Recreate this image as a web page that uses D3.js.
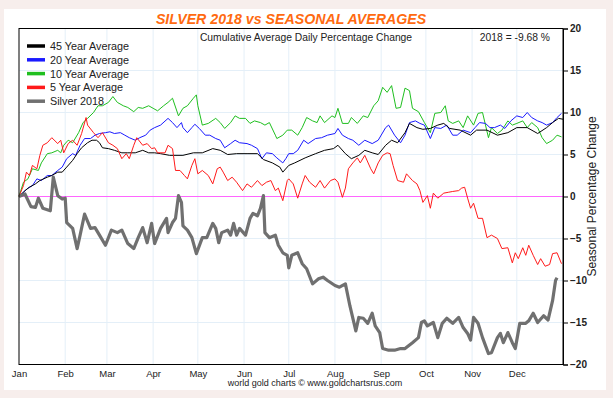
<!DOCTYPE html>
<html>
<head>
<meta charset="utf-8">
<script src="https://cdn.jsdelivr.net/npm/d3@7"></script>
<style>
  html, body { margin: 0; padding: 0; background: #f7eeec; }
  svg { display: block; font-family: "Liberation Sans", Arial, sans-serif; }
</style>
</head>
<body>
<div id="container"></div>
<script>
/* CONSTANTS AND GLOBALS */
const width = 613,
  height = 398,
  margin = { top: 28.5, bottom: 33.5, left: 19, right: 50 };

/* DATA */
// month labels sit on the first day of each month (day of year)
const months = ["Jan", "Feb", "Mar", "Apr", "May", "Jun", "Jul", "Aug", "Sep", "Oct", "Nov", "Dec"];
const monthStarts = [0, 31, 59, 90, 120, 151, 181, 212, 243, 273, 304, 334];
const yTicks = [-20, -15, -10, -5, 0, 5, 10, 15, 20];

const seriesNames = ["45 Year Average", "20 Year Average", "10 Year Average", "5 Year Average", "Silver 2018"];
const seriesColors = ["#000000", "#1a1aff", "#1fbf1f", "#ff1a1a", "#707070"];

// [day of year, cumulative % change]
const avg45 = [[0,0],[4,0.7],[7,1.1],[11,1.5],[14,1.9],[19,2.3],[22,2.5],[26,2.9],[29,2.9],[32,3.5],[36,4.3],[39,5.1],
  [42,5.8],[46,6.4],[49,6.7],[52,6.7],[54,6.4],[56,5.8],[60,5.7],[64,5.5],[69,5.2],[73,5.2],[78,5.2],[83,5.5],[87,5.2],
  [91,5.2],[95,5.1],[101,4.9],[110,4.9],[117,5.2],[123,5.2],[130,5.7],[135,5.5],[140,5.0],[146,5.1],[153,5.1],[160,5.1],
  [164,4.4],[170,4.0],[175,3.5],[177,2.9],[181,3.7],[185,4.0],[192,4.6],[199,5.1],[205,5.5],[211,5.7],[214,6.1],[219,5.1],
  [223,4.5],[228,4.9],[232,5.5],[237,5.2],[241,5.0],[246,6.1],[250,6.7],[254,6.4],[259,7.6],[262,8.7],[267,8.2],[271,8.0],
  [276,8.1],[281,8.5],[285,8.7],[289,8.1],[296,7.9],[303,7.3],[307,7.9],[314,7.9],[321,7.3],[328,7.6],[334,8.2],[341,8.2],
  [348,7.5],[354,8.2],[358,8.8],[362,9.3],[365,9.2]];

const avg20 = [[0,0],[3,0.5],[6,1.0],[9,1.3],[12,2.1],[15,1.9],[19,2.5],[22,2.5],[26,3.1],[29,3.5],[32,4.5],[36,5.1],
  [38,4.9],[41,6.1],[44,6.9],[48,6.9],[51,7.3],[54,7.5],[58,7.6],[61,7.7],[64,7.5],[68,7.6],[71,7.3],[74,7.0],[78,6.7],
  [81,7.0],[85,7.3],[88,7.9],[91,8.2],[95,8.5],[100,9.3],[103,8.8],[106,8.2],[109,8.8],[110,8.2],[113,7.6],[116,8.2],
  [118,8.6],[121,8.1],[125,7.3],[128,7.3],[132,6.9],[135,6.7],[138,5.8],[142,6.3],[145,6.7],[148,6.4],[153,6.3],[156,6.1],
  [160,5.7],[163,4.5],[166,5.2],[170,5.1],[173,4.6],[177,4.0],[179,4.5],[181,5.1],[184,5.1],[187,5.5],[191,6.7],[194,6.3],
  [199,6.9],[203,7.0],[207,7.3],[212,7.5],[214,8.1],[217,7.3],[221,6.9],[224,6.7],[228,6.1],[232,6.7],[237,6.3],[241,6.7],
  [246,8.2],[248,8.5],[252,7.3],[256,6.4],[259,7.3],[262,8.8],[266,9.0],[269,8.7],[272,8.5],[276,6.9],[279,8.2],[283,8.1],
  [287,8.5],[291,7.3],[294,7.3],[298,7.9],[303,7.6],[306,8.2],[309,8.8],[313,8.7],[316,8.2],[319,8.2],[323,8.5],[326,8.1],
  [330,9.0],[334,9.6],[338,9.4],[341,10.0],[344,9.4],[348,9.0],[351,8.8],[354,8.5],[358,8.8],[361,9.4],[364,9.9]];

const avg10 = [[0,0],[3,1.7],[6,2.1],[9,3.3],[13,3.1],[15,4.0],[19,5.1],[22,5.2],[26,5.5],[28,5.2],[30,6.1],[33,6.7],
  [36,6.4],[40,7.6],[43,8.8],[46,9.3],[50,10.0],[53,10.8],[56,10.8],[60,11.2],[63,11.9],[66,11.2],[70,10.8],[73,10.6],
  [77,10.1],[80,10.6],[83,10.5],[87,10.8],[90,10.5],[93,10.2],[97,10.8],[100,11.2],[103,11.7],[107,9.6],[110,10.5],
  [113,10.8],[117,11.7],[119,12.1],[120,10.8],[123,8.5],[127,8.7],[132,9.3],[135,8.8],[138,8.1],[142,8.8],[145,9.6],
  [148,9.3],[152,9.3],[155,8.7],[158,9.0],[162,8.8],[165,8.5],[168,8.8],[172,7.3],[173,6.9],[177,7.3],[180,7.9],[183,7.9],
  [187,7.3],[190,8.2],[193,9.4],[197,9.0],[200,8.8],[202,9.6],[205,8.8],[210,9.6],[212,9.4],[214,10.5],[217,8.7],[221,8.7],
  [223,9.4],[227,8.7],[231,9.6],[234,9.4],[238,10.8],[241,11.4],[244,13.0],[247,12.4],[250,13.2],[253,10.5],[256,10.6],
  [259,12.9],[262,12.6],[264,10.5],[268,10.1],[272,8.8],[276,7.6],[279,9.9],[283,10.0],[286,10.8],[288,9.0],[291,8.7],
  [295,9.0],[298,8.2],[301,9.6],[305,8.5],[308,9.9],[311,10.0],[315,7.0],[317,8.2],[321,7.5],[324,7.9],[328,9.0],[331,8.5],
  [334,8.7],[338,9.0],[341,8.2],[344,8.8],[348,8.2],[351,7.0],[354,6.3],[358,6.7],[361,7.3],[364,7.1]];

const avg5 = [[0,0],[3,1.3],[5,2.9],[7,2.5],[9,3.7],[12,3.3],[14,4.9],[16,6.1],[19,6.4],[22,7.0],[26,6.3],[28,6.7],
  [30,5.2],[33,6.3],[36,6.7],[39,6.1],[42,7.5],[45,9.4],[46,8.5],[50,7.6],[53,7.0],[56,7.6],[60,6.4],[63,6.1],[66,5.7],
  [69,4.5],[72,5.1],[74,4.5],[77,6.1],[79,7.0],[83,6.1],[86,6.3],[89,5.7],[91,5.8],[93,5.2],[98,5.2],[100,6.1],[103,5.7],
  [105,3.1],[108,3.1],[111,2.5],[113,2.1],[116,3.7],[118,4.5],[120,2.7],[123,3.1],[127,2.5],[130,1.5],[133,3.3],[135,3.5],
  [137,2.9],[140,1.9],[143,2.3],[146,1.7],[150,0.7],[153,1.5],[156,1.1],[160,1.9],[163,1.3],[166,1.7],[169,1.9],[172,0.7],
  [174,1.0],[177,-0.5],[180,1.9],[181,2.1],[184,1.5],[187,-0.2],[190,1.5],[192,2.5],[195,1.7],[199,1.1],[202,1.9],[205,1.0],
  [209,1.9],[212,2.1],[214,1.7],[217,-0.1],[219,1.0],[221,3.3],[224,4.0],[227,4.6],[229,4.0],[232,4.9],[236,3.3],[238,2.7],
  [241,4.0],[244,4.9],[247,5.2],[249,5.1],[251,3.7],[254,1.9],[258,1.7],[260,2.7],[264,1.9],[267,1.5],[269,0.7],[271,-0.7],
  [274,0.1],[276,-1.4],[278,0.4],[281,-0.2],[285,0.4],[288,0.5],[291,0.6],[295,0.7],[297,1.0],[299,1.1],[301,-0.2],
  [303,-1.4],[305,-0.8],[308,-2.6],[311,-2.6],[314,-4.9],[317,-4.6],[321,-5.0],[324,-6.2],[328,-6.1],[331,-7.9],[333,-6.7],
  [335,-7.4],[338,-6.1],[340,-7.0],[342,-5.8],[345,-7.0],[348,-8.1],[350,-7.4],[353,-8.3],[356,-8.1],[358,-6.8],
  [361,-6.7],[364,-8.0]];

const silver2018 = [[0,0],[4,0.3],[8,-1.2],[11,-1.3],[13,-0.2],[16,-1.4],[21,-1.7],[23,2.3],[26,0.1],[29,-0.3],[31,-0.2],
  [32,-3.1],[36,-3.8],[39,-6.2],[41,-4.6],[44,-2.1],[48,-3.8],[51,-3.7],[54,-4.6],[58,-5.8],[62,-4.0],[66,-4.3],[69,-4.0],
  [73,-5.6],[77,-6.2],[80,-4.9],[83,-3.7],[86,-5.5],[89,-3.2],[91,-5.6],[95,-3.8],[99,-2.6],[100,-4.3],[103,-3.1],
  [105,-2.6],[107,0.1],[109,-0.7],[110,-3.5],[113,-4.0],[116,-4.9],[119,-6.8],[123,-4.9],[126,-4.9],[130,-3.2],[132,-3.8],
  [134,-5.5],[136,-4.3],[140,-4.0],[142,-4.6],[144,-3.2],[146,-4.6],[148,-3.8],[152,-4.6],[155,-2.6],[157,-2.0],[160,-2.3],
  [162,-1.4],[164,0.1],[165,-4.3],[168,-4.9],[172,-4.6],[174,-5.8],[177,-6.7],[180,-7.0],[181,-8.5],[183,-7.0],[187,-6.7],
  [190,-8.0],[193,-8.6],[197,-10.4],[201,-9.8],[204,-9.6],[207,-10.0],[212,-10.6],[215,-10.8],[219,-10.4],[222,-13.0],
  [226,-16.0],[228,-14.4],[231,-14.5],[234,-15.1],[237,-13.9],[239,-15.4],[242,-16.2],[244,-18.1],[248,-18.3],[252,-18.3],
  [256,-18.1],[259,-18.1],[264,-17.4],[268,-16.8],[270,-15.0],[272,-14.8],[274,-15.4],[278,-15.0],[281,-16.8],[284,-15.1],
  [287,-14.5],[291,-15.1],[295,-14.4],[298,-15.6],[301,-16.3],[303,-17.1],[305,-14.4],[308,-15.1],[311,-16.8],[315,-18.7],
  [317,-18.6],[321,-16.8],[323,-16.3],[325,-17.4],[328,-16.2],[331,-17.4],[333,-18.1],[334,-17.1],[336,-15.1],[340,-15.1],
  [342,-14.8],[345,-13.9],[348,-15.0],[352,-14.2],[355,-14.7],[358,-12.4],[360,-10.0],[361,-9.68]];

const latestValue = "2018 = -9.68 %";

/* SCALES */
const xScale = d3.scaleLinear()
  .domain([0, 365])
  .range([margin.left, width - margin.right]);

const yScale = d3.scaleLinear()
  .domain([-20, 20])
  .range([height - margin.bottom, margin.top]);

/* SVG */
const svg = d3.select("#container")
  .append("svg")
  .attr("width", width)
  .attr("height", height);

// white card behind the chart
svg.append("rect")
  .attr("x", 4).attr("y", 9)
  .attr("width", 602).attr("height", 381)
  .attr("fill", "#ffffff");

// + GRID
const grid = svg.append("g");
grid.selectAll(".vgrid")
  .data(monthStarts.slice(1))
  .join("line")
  .attr("x1", d => xScale(d)).attr("x2", d => xScale(d))
  .attr("y1", margin.top).attr("y2", height - margin.bottom)
  .attr("stroke", "#e4eff8").attr("stroke-width", 1);

grid.selectAll(".hgrid")
  .data(yTicks.filter(d => d !== 0 && Math.abs(d) !== 20))
  .join("line")
  .attr("x1", margin.left).attr("x2", width - margin.right)
  .attr("y1", d => yScale(d)).attr("y2", d => yScale(d))
  .attr("stroke", "#e4eff8").attr("stroke-width", 1);

// zero line
svg.append("line")
  .attr("x1", margin.left).attr("x2", width - margin.right)
  .attr("y1", yScale(0)).attr("y2", yScale(0))
  .attr("stroke", "#ff66ff").attr("stroke-width", 1.2);

// + LINES
const line = d3.line()
  .x(d => xScale(d[0]))
  .y(d => yScale(d[1]));

const allSeries = [avg45, avg20, avg10, avg5, silver2018];
const drawOrder = [2, 1, 0, 3, 4];

svg.append("g")
  .selectAll("path")
  .data(drawOrder)
  .join("path")
  .attr("d", i => line(allSeries[i]))
  .attr("fill", "none")
  .attr("stroke", i => seriesColors[i])
  .attr("stroke-width", i => i === 4 ? 3.2 : 1)
  .attr("stroke-linejoin", "round");

// + FRAME
svg.append("rect")
  .attr("x", margin.left).attr("y", margin.top)
  .attr("width", width - margin.left - margin.right)
  .attr("height", height - margin.top - margin.bottom)
  .attr("fill", "none")
  .attr("stroke", "#000").attr("stroke-width", 1);

// + AXES
const yAxis = d3.axisRight(yScale)
  .tickValues(yTicks)
  .tickSize(5)
  .tickPadding(2);

svg.append("g")
  .attr("transform", `translate(${width - margin.right},0)`)
  .call(yAxis)
  .call(g => g.select(".domain").attr("stroke", "#000"))
  .call(g => g.selectAll("text")
    .attr("font-family", "Liberation Sans, Arial, sans-serif")
    .attr("font-size", 10).attr("font-weight", "bold").attr("fill", "#222"));

const xAxis = d3.axisBottom(xScale)
  .tickValues(monthStarts)
  .tickFormat((d, i) => months[i])
  .tickSize(0)
  .tickPadding(6);

svg.append("g")
  .attr("transform", `translate(0,${height - margin.bottom})`)
  .call(xAxis)
  .call(g => g.select(".domain").remove())
  .call(g => g.selectAll("text")
    .attr("font-family", "Liberation Sans, Arial, sans-serif")
    .attr("font-size", 9.5).attr("fill", "#222"));

svg.append("text")
  .attr("transform", `translate(596,${yScale(0)}) rotate(-90)`)
  .attr("text-anchor", "middle")
  .attr("font-size", 12)
  .attr("fill", "#222")
  .text("Seasonal Percentage Change");

// + TITLES
svg.append("text")
  .attr("x", 291).attr("y", 24)
  .attr("text-anchor", "middle")
  .attr("font-size", 14.2).attr("font-weight", "bold").attr("font-style", "italic")
  .attr("fill", "#ff6a10")
  .text("SILVER 2018 vs SEASONAL AVERAGES");

svg.append("text")
  .attr("x", 306).attr("y", 41)
  .attr("text-anchor", "middle")
  .attr("font-size", 10.3).attr("fill", "#222")
  .text("Cumulative Average Daily Percentage Change");

svg.append("text")
  .attr("x", 550).attr("y", 41)
  .attr("text-anchor", "end")
  .attr("font-size", 10.3).attr("fill", "#222")
  .text(latestValue);

svg.append("text")
  .attr("x", 315).attr("y", 386)
  .attr("text-anchor", "middle")
  .attr("font-size", 9).attr("fill", "#222")
  .text("world gold charts \u00a9 www.goldchartsrus.com");

// + LEGEND
const legend = svg.append("g")
  .selectAll("g")
  .data(seriesNames)
  .join("g")
  .attr("transform", (d, i) => `translate(27,${46 + i * 13.8})`);

legend.append("line")
  .attr("x1", 0).attr("x2", 18)
  .attr("stroke", (d, i) => seriesColors[i])
  .attr("stroke-width", 3.5);

legend.append("text")
  .attr("x", 23).attr("y", 4)
  .attr("font-size", 10.8).attr("fill", "#222")
  .text(d => d);
</script>
</body>
</html>
